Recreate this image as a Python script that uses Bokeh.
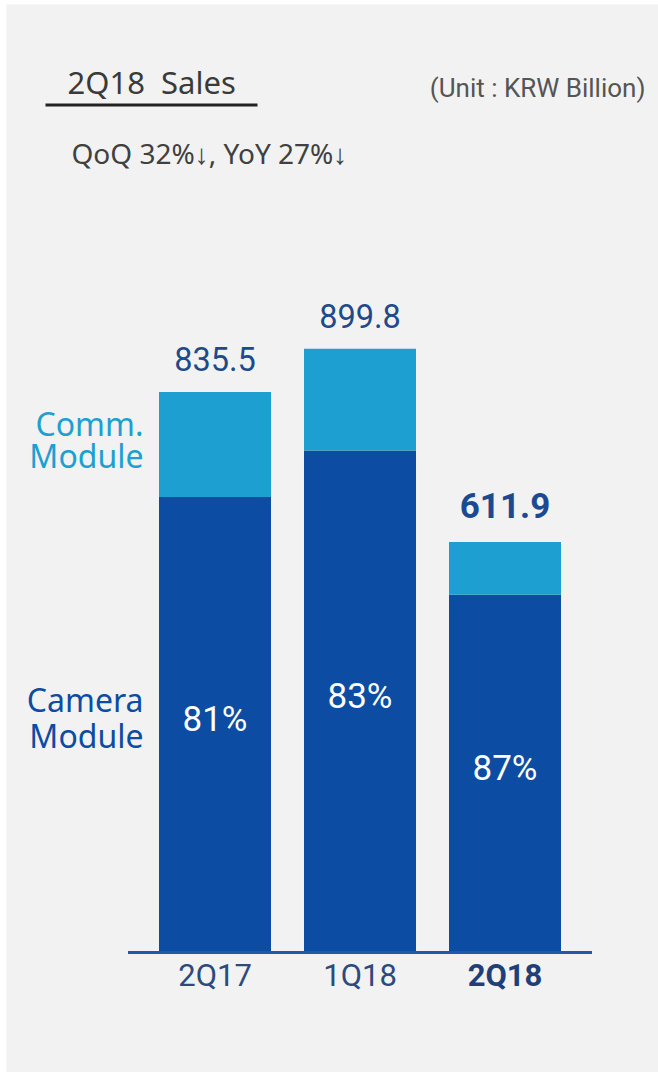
from bokeh.plotting import figure
from bokeh.models import ColumnDataSource, Label
from bokeh.core.properties import value
from bokeh.embed import file_html
from bokeh.resources import INLINE

# ---- data ----
categories = ["2Q17", "1Q18", "2Q18"]
camera = [679.0, 748.0, 533.0]
totals = [835.5, 899.8, 611.9]
comm = [t - c for t, c in zip(totals, camera)]
camera_share = ["81%", "83%", "87%"]
total_labels = ["835.5", "899.8", "611.9"]

title_text = "2Q18\u00a0\u00a0Sales"
unit_text = "(Unit : KRW Billion)"
growth_text = "QoQ\u00a032%\u2193, YoY 27%\u2193"

W, H = 658, 1072
LEFT, TOP = 6, 4          # white strip around the grey panel
FW, FH = W - LEFT, H - TOP
PX_X = 145.0              # pixels per category step
PX_Y = 0.671              # pixels per KRW billion
BASE_PAGE_Y = 952         # page y of the baseline
CENTER_PAGE_X = 359.5     # page x of the middle bar

x_start = 1 - (CENTER_PAGE_X - LEFT) / PX_X
x_end = x_start + FW / PX_X
y_start = -(H - BASE_PAGE_Y) / PX_Y
y_end = y_start + FH / PX_Y


def px2x(page_x):
    return x_start + (page_x - LEFT) / PX_X


def py2y(page_y):
    return (BASE_PAGE_Y - page_y) / PX_Y


p = figure(width=W, height=H, x_range=(x_start, x_end), y_range=(y_start, y_end),
           x_axis_type=None, y_axis_type=None, toolbar_location=None,
           output_backend="svg", min_border=0,
           min_border_left=LEFT, min_border_top=TOP)
p.background_fill_color = "#f2f2f2"
p.border_fill_color = "white"
p.outline_line_color = None
p.xgrid.visible = False
p.ygrid.visible = False

xs = list(range(len(categories)))
src = ColumnDataSource(dict(
    x=xs, cat=categories, camera=camera, comm=comm, totals=totals,
    mid=[c / 2 for c in camera], share=camera_share, tl=total_labels,
))

BAR_W = 112 / PX_X
p.vbar_stack(["camera", "comm"], x="x", width=BAR_W, source=src,
             color=["#0c4ca2", "#1da0d1"], line_color=None)

# baseline
p.segment(x0=[xs[0] - 0.6], x1=[xs[-1] + 0.6], y0=[0], y1=[0],
          line_color="#1f5aa8", line_width=3)

# percentages inside camera segment
p.text(x="x", y="mid", text="share", source=src, text_align="center",
       text_baseline="middle", y_offset=-5, text_color="white",
       text_font=value("Roboto"), text_font_size="35px")

# totals above bars
reg = ColumnDataSource(dict(x=xs[:2], y=totals[:2], t=total_labels[:2]))
p.text(x="x", y="y", text="t", source=reg, text_align="center",
       text_baseline="middle", y_offset=-33, text_color="#1f4a8a",
       text_font=value("Roboto"), text_font_size="32.5px")
bold = ColumnDataSource(dict(x=xs[2:], y=totals[2:], t=total_labels[2:]))
p.text(x="x", y="y", text="t", source=bold, text_align="center",
       text_baseline="middle", y_offset=-36, text_color="#1b4a90",
       text_font=value("Roboto"), text_font_size="35px", text_font_style="bold")

# category labels
tick_y = py2y(975)
p.text(x=xs[:2], y=[tick_y] * 2, text=categories[:2], text_align="center",
       text_baseline="middle", text_color="#2b4a7e",
       text_font=value("Roboto"), text_font_size="31px")
p.text(x=xs[2:], y=[tick_y], text=categories[2:], text_align="center",
       text_baseline="middle", text_color="#1f3f78",
       text_font=value("Roboto"), text_font_size="31px", text_font_style="bold")

# series labels
for txt, py, col in [("Comm.", 423, "#1da0d1"), ("Module", 455, "#1da0d1"),
                     ("Camera", 699, "#0c4ca2"), ("Module", 735, "#0c4ca2")]:
    p.add_layout(Label(x=px2x(143), y=py2y(py), text=txt, text_align="right",
                       text_baseline="middle", text_color=col,
                       text_font="Noto Sans", text_font_size="32px"))

# title, underline, unit, growth
p.add_layout(Label(x=px2x(67), y=py2y(81), text=title_text, text_align="left",
                   text_baseline="middle", text_color="#3a3a3a",
                   text_font="Noto Sans", text_font_size="31px"))
p.segment(x0=[px2x(45)], x1=[px2x(257)], y0=[py2y(104.5)], y1=[py2y(104.5)],
          line_color="#222222", line_width=3)
p.add_layout(Label(x=px2x(645), y=py2y(87), text=unit_text, text_align="right",
                   text_baseline="middle", text_color="#555555",
                   text_font="Roboto", text_font_size="26px"))
p.add_layout(Label(x=px2x(71), y=py2y(152), text=growth_text, text_align="left",
                   text_baseline="middle", text_color="#404040",
                   text_font="Noto Sans", text_font_size="28px"))

open("out.html", "w").write(file_html(p, INLINE))
